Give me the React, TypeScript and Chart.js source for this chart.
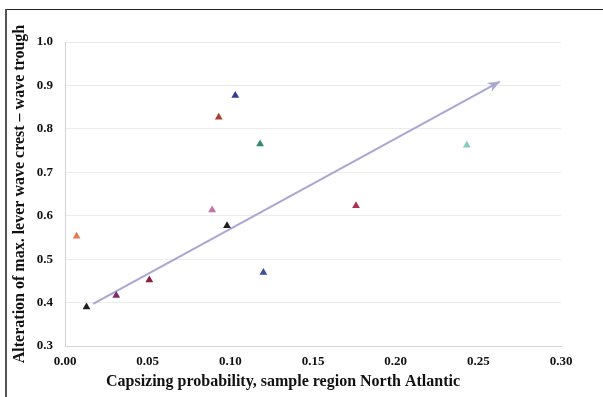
import React, { useEffect, useRef } from "react";
import { Chart, registerables } from "chart.js";
Chart.register(...registerables);

const xValues = [0.007, 0.013, 0.031, 0.051, 0.089, 0.098, 0.12, 0.176, 0.103, 0.093, 0.118, 0.243];
const yValues = [0.553, 0.39, 0.416, 0.452, 0.613, 0.577, 0.469, 0.623, 0.877, 0.827, 0.765, 0.762];
const pointColors = [
  "#e27b4f", "#1e1e1e", "#7b2a6e", "#8b1e3e", "#c46fae", "#1f1f1f",
  "#3b4fa0", "#a93552", "#2f3f8f", "#a8402e", "#2e8c6a", "#86cbbb",
];
const arrowX = [0.017, 0.263];
const arrowY = [0.397, 0.909];
const yTitle = "Alteration of max. lever wave crest \u2013 wave trough";
const xTitle = "Capsizing probability, sample region North Atlantic";

const FONT = '"Liberation Serif", "Times New Roman", serif';

const framePlugin = {
  id: "frame",
  beforeDraw(chart: any) {
    const ctx = chart.ctx;
    ctx.save();
    ctx.fillStyle = "#ffffff";
    ctx.fillRect(0, 0, chart.width, chart.height);
    ctx.strokeStyle = "#222";
    ctx.lineWidth = 1;
    ctx.beginPath();
    ctx.moveTo(5, 9.5);
    ctx.lineTo(chart.width, 9.5);
    ctx.stroke();
    ctx.strokeStyle = "#555";
    ctx.lineWidth = 2;
    ctx.beginPath();
    ctx.moveTo(6, 9);
    ctx.lineTo(6, chart.height);
    ctx.stroke();
    ctx.restore();
  },
  afterDraw(chart: any) {
    const ctx = chart.ctx;
    ctx.save();
    ctx.font = "bold 16px " + FONT;
    ctx.fillStyle = "#111";
    ctx.textAlign = "center";
    ctx.textBaseline = "middle";
    ctx.fillText(xTitle, 283, 382);
    ctx.restore();
  },
};

const arrowPlugin = {
  id: "arrowHead",
  afterDatasetsDraw(chart: any) {
    const meta = chart.getDatasetMeta(1);
    if (!meta || !meta.data || meta.data.length < 2) return;
    const p0 = meta.data[0];
    const p1 = meta.data[meta.data.length - 1];
    const ang = Math.atan2(p1.y - p0.y, p1.x - p0.x);
    const len = 12;
    const half = 5;
    const ctx = chart.ctx;
    ctx.save();
    ctx.fillStyle = "#aaa6d2";
    ctx.beginPath();
    ctx.moveTo(p1.x, p1.y);
    ctx.lineTo(
      p1.x - len * Math.cos(ang) + half * Math.sin(ang),
      p1.y - len * Math.sin(ang) - half * Math.cos(ang)
    );
    ctx.lineTo(
      p1.x - len * 0.7 * Math.cos(ang),
      p1.y - len * 0.7 * Math.sin(ang)
    );
    ctx.lineTo(
      p1.x - len * Math.cos(ang) - half * Math.sin(ang),
      p1.y - len * Math.sin(ang) + half * Math.cos(ang)
    );
    ctx.closePath();
    ctx.fill();
    ctx.restore();
  },
};

export default function App() {
  const ref = useRef<HTMLCanvasElement>(null);
  useEffect(() => {
    if (!ref.current) return;
    const chart = new Chart(ref.current, {
      type: "scatter",
      data: {
        datasets: [
          {
            data: xValues.map((x, i) => ({ x, y: yValues[i] })),
            pointStyle: "triangle",
            pointRadius: 4.5,
            backgroundColor: pointColors,
            borderColor: pointColors,
            borderWidth: 0,
          },
          {
            type: "line",
            data: arrowX.map((x, i) => ({ x, y: arrowY[i] })),
            borderColor: "#aaa6d2",
            borderWidth: 2,
            pointRadius: 0,
            showLine: true,
            fill: false,
          } as any,
        ],
      },
      options: {
        responsive: false,
        animation: false,
        layout: { padding: { left: 0, top: 42, right: 42, bottom: 0 } },
        plugins: {
          legend: { display: false },
          tooltip: { enabled: false },
        },
        scales: {
          x: {
            type: "linear",
            min: 0,
            max: 0.3,
            afterFit: (s: any) => {
              s.height = 51;
            },
            ticks: {
              stepSize: 0.05,
              color: "#111",
              padding: 8,
              font: { family: FONT, size: 13, weight: "bold" },
              callback: (v: any) => Number(v).toFixed(2),
            },
            grid: { display: false, drawTicks: false },
            border: { display: true, color: "#d4d4d4", width: 1 },
          },
          y: {
            type: "linear",
            min: 0.3,
            max: 1.0,
            afterFit: (s: any) => {
              s.width = 65;
            },
            ticks: {
              stepSize: 0.1,
              color: "#111",
              padding: 12,
              font: { family: FONT, size: 13, weight: "bold" },
              callback: (v: any) => Number(v).toFixed(1),
            },
            grid: { color: "#ececec", drawTicks: false },
            border: { display: true, color: "#d4d4d4", width: 1 },
            title: {
              display: true,
              text: yTitle,
              color: "#111",
              font: { family: FONT, size: 16, weight: "bold" },
              padding: { top: 10, bottom: 0 },
            },
          },
        },
      },
      plugins: [framePlugin, arrowPlugin],
    } as any);
    return () => chart.destroy();
  }, []);
  return (
    <div style={{ position: "fixed", left: 0, top: 0, width: 603, height: 397, background: "#fff" }}>
      <canvas ref={ref} width={603} height={397} style={{ display: "block" }} />
    </div>
  );
}
